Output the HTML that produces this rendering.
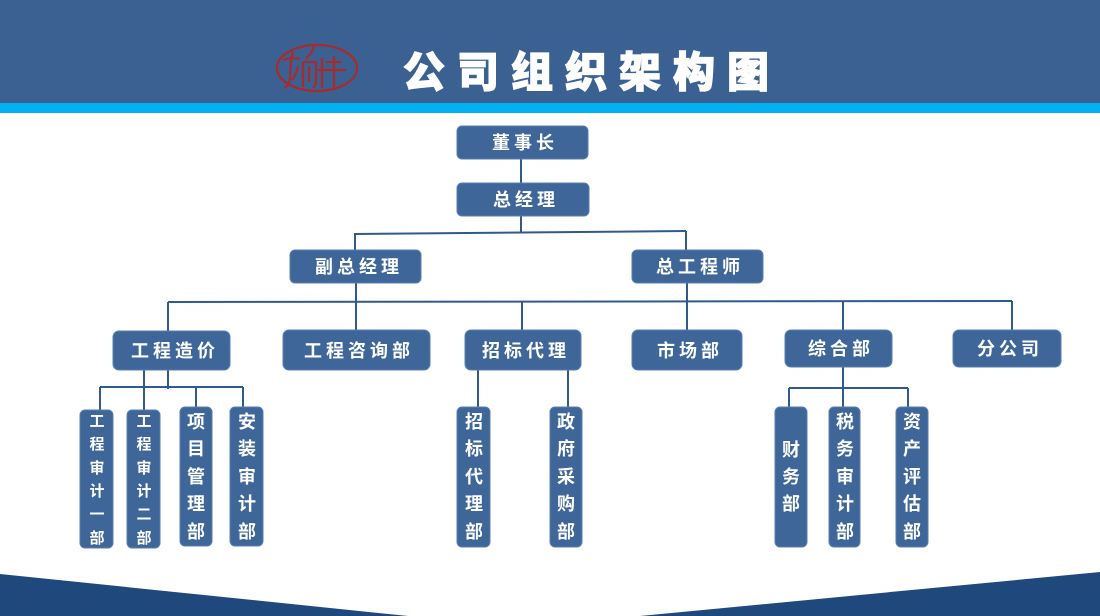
<!DOCTYPE html>
<html>
<head>
<meta charset="utf-8">
<style>
html,body{margin:0;padding:0;background:#fff;}
body{width:1100px;height:616px;overflow:hidden;position:relative;font-family:"Liberation Sans","Noto Sans CJK SC",sans-serif;}
svg{position:absolute;left:0;top:0;}
.t{font-family:"Liberation Sans","Noto Sans CJK SC",sans-serif;font-weight:700;fill:#fff;}
</style>
</head>
<body>
<svg width="1100" height="616" viewBox="0 0 1100 616" xmlns="http://www.w3.org/2000/svg">
  <!-- header -->
  <rect x="0" y="0" width="1100" height="103" fill="#3a6191"/>
  <rect x="0" y="103" width="1100" height="10" fill="#00b0f0"/>
  <!-- logo -->
  <g fill="none" stroke="#a92a2c" stroke-width="2.2">
    <ellipse cx="317" cy="68" rx="40" ry="23"/>
    <path d="M283 60 Q292 57 300 59"/>
    <path d="M293 52 L291 60 L290 78 Q289 86 284 88"/>
    <path d="M298 66 Q296 76 292 80"/>
    <path d="M303 62 L303 87"/>
    <path d="M303 62 L316 62 L316 80 Q316 86 313 88"/>
    <path d="M309 66 L309 82"/>
    <path d="M314 46 Q312 54 306 58"/>
    <path d="M322 58 L322 88"/>
    <path d="M334 56 L334 90"/>
    <path d="M318 70 L346 70"/>
    <path d="M326 62 L342 62"/>
  </g>
  <text x="403" y="87" class="t" font-size="42" letter-spacing="12" style="font-weight:900;" stroke="#fff" stroke-width="1.2">公司组织架构图</text>

  <!-- bottom triangles -->
  <polygon points="0,574 408,616 0,616" fill="#1f487c"/>
  <polygon points="1100,572 1100,616 640,616" fill="#1f487c"/>

  <!-- connectors -->
  <g stroke="#2f5a8e" stroke-width="2" fill="none">
    <line x1="521" y1="159" x2="521" y2="183"/>
    <line x1="521" y1="216" x2="521" y2="232"/>
    <line x1="355" y1="234" x2="686" y2="231"/>
    <line x1="355" y1="233" x2="355" y2="250"/>
    <line x1="686" y1="231" x2="686" y2="250"/>
    <line x1="356" y1="283" x2="356" y2="330"/>
    <line x1="687" y1="283" x2="687" y2="330"/>
    <line x1="168" y1="302" x2="1012" y2="301"/>
    <line x1="168" y1="302" x2="168" y2="331"/>
    <line x1="522" y1="302" x2="522" y2="330"/>
    <line x1="843" y1="301" x2="843" y2="330"/>
    <line x1="1012" y1="301" x2="1012" y2="330"/>
    <!-- 工程造价 children -->
    <line x1="100" y1="387" x2="243" y2="387"/>
    <line x1="100" y1="387" x2="100" y2="410"/>
    <line x1="144" y1="370" x2="144" y2="410"/>
    <line x1="168" y1="370" x2="168" y2="389"/>
    <line x1="196" y1="387" x2="196" y2="407"/>
    <line x1="243" y1="387" x2="243" y2="407"/>
    <!-- 招标代理 children -->
    <line x1="478" y1="370" x2="478" y2="407"/>
    <line x1="568" y1="370" x2="568" y2="407"/>
    <!-- 综合部 children -->
    <line x1="789" y1="388" x2="908" y2="388"/>
    <line x1="789" y1="388" x2="789" y2="407"/>
    <line x1="843" y1="367" x2="843" y2="407"/>
    <line x1="908" y1="388" x2="908" y2="407"/>
  </g>

  <!-- nodes -->
  <g fill="#3e6698" stroke="#5a7fae" stroke-width="1">
    <rect x="457" y="126" width="131" height="33" rx="5"/>
    <rect x="457" y="183" width="132" height="33" rx="5"/>
    <rect x="290" y="250" width="131" height="33" rx="5"/>
    <rect x="632" y="250" width="131" height="33" rx="5"/>
    <rect x="113" y="331" width="117" height="39" rx="6"/>
    <rect x="283" y="330" width="147" height="40" rx="6"/>
    <rect x="465" y="330" width="116" height="40" rx="6"/>
    <rect x="632" y="330" width="110" height="40" rx="6"/>
    <rect x="785" y="330" width="107" height="37" rx="6"/>
    <rect x="953" y="330" width="108" height="37" rx="6"/>
    <rect x="80" y="410" width="33" height="138" rx="5"/>
    <rect x="127" y="410" width="33" height="138" rx="5"/>
    <rect x="180" y="407" width="32" height="139" rx="5"/>
    <rect x="230" y="407" width="33" height="139" rx="5"/>
    <rect x="457" y="407" width="33" height="140" rx="5"/>
    <rect x="550" y="407" width="32" height="140" rx="5"/>
    <rect x="775" y="407" width="32" height="140" rx="5"/>
    <rect x="829" y="407" width="31" height="140" rx="5"/>
    <rect x="896" y="407" width="32" height="140" rx="5"/>
  </g>

  <!-- horizontal labels -->
  <g class="t" font-size="18" text-anchor="middle" letter-spacing="4">
    <text x="525" y="149">董事长</text>
    <text x="526" y="206">总经理</text>
    <text x="359" y="273">副总经理</text>
    <text x="700" y="273">总工程师</text>
    <text x="175" y="357">工程造价</text>
    <text x="359" y="357">工程咨询部</text>
    <text x="526" y="357">招标代理</text>
    <text x="690" y="357">市场部</text>
    <text x="841" y="355">综合部</text>
    <text x="1010" y="355">分公司</text>
  </g>

  <!-- vertical labels -->
  <g class="t" text-anchor="middle">
    <g font-size="15">
      <text x="97" y="426">工</text><text x="97" y="449">程</text><text x="97" y="473">审</text><text x="97" y="496">计</text><text x="97" y="519">一</text><text x="97" y="543">部</text>
      <text x="144" y="426">工</text><text x="144" y="449">程</text><text x="144" y="473">审</text><text x="144" y="496">计</text><text x="144" y="519">二</text><text x="144" y="543">部</text>
    </g>
    <g font-size="18">
      <text x="196" y="428">项</text><text x="196" y="455">目</text><text x="196" y="483">管</text><text x="196" y="510">理</text><text x="196" y="538">部</text>
      <text x="247" y="428">安</text><text x="247" y="455">装</text><text x="247" y="483">审</text><text x="247" y="510">计</text><text x="247" y="538">部</text>
      <text x="474" y="428">招</text><text x="474" y="455">标</text><text x="474" y="483">代</text><text x="474" y="510">理</text><text x="474" y="538">部</text>
      <text x="566" y="428">政</text><text x="566" y="455">府</text><text x="566" y="483">采</text><text x="566" y="510">购</text><text x="566" y="538">部</text>
      <text x="791" y="456">财</text><text x="791" y="483">务</text><text x="791" y="510">部</text>
      <text x="845" y="428">税</text><text x="845" y="455">务</text><text x="845" y="483">审</text><text x="845" y="510">计</text><text x="845" y="538">部</text>
      <text x="912" y="428">资</text><text x="912" y="455">产</text><text x="912" y="483">评</text><text x="912" y="510">估</text><text x="912" y="538">部</text>
    </g>
  </g>
</svg>
</body>
</html>
